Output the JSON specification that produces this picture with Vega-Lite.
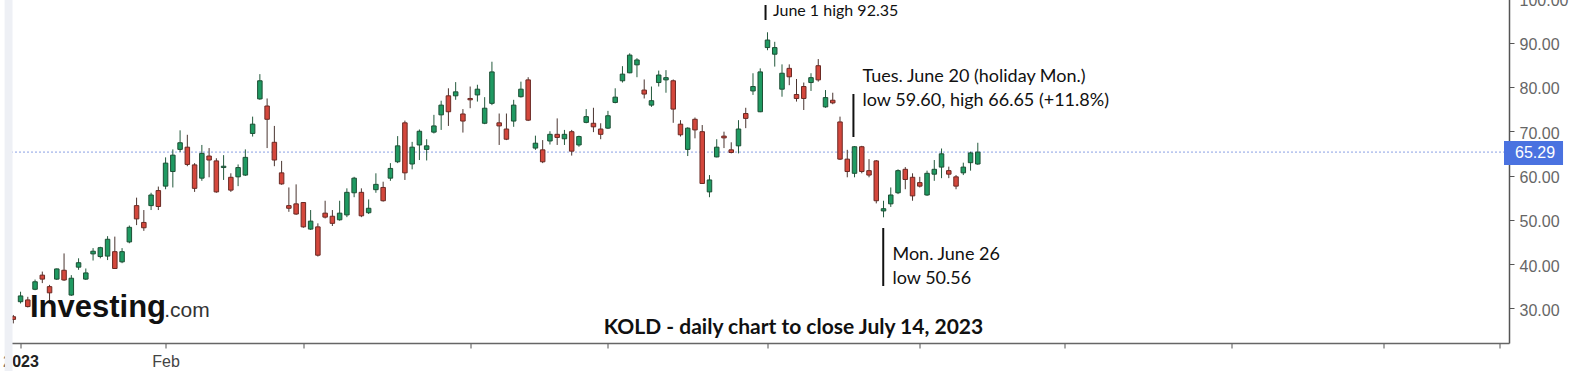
{
  "$schema": "https://vega.github.io/schema/vega-lite/v6.json",
  "width": 1501.5,
  "height": 351,
  "autosize": {"type": "none"},
  "padding": {"left": 7.5, "top": -8, "right": 63, "bottom": 28},
  "background": "white",
  "config": {"view": {"stroke": null}, "font": "Lato"},
  "data": {"values": [
    {"i":0,"o":28.1,"h":28.5,"l":26.6,"c":27.5},
    {"i":1,"o":31.5,"h":33.75,"l":31.1,"c":32.8},
    {"i":2,"o":31.9,"h":32.6,"l":30.2,"c":30.4},
    {"i":3,"o":34.3,"h":36.5,"l":34.1,"c":36.0},
    {"i":4,"o":37.5,"h":38.3,"l":35.7,"c":36.6},
    {"i":5,"o":34.9,"h":35.3,"l":31.1,"c":33.5},
    {"i":6,"o":36.6,"h":39.0,"l":36.4,"c":38.9},
    {"i":7,"o":38.6,"h":42.4,"l":36.2,"c":36.4},
    {"i":8,"o":33.0,"h":37.5,"l":32.8,"c":36.8},
    {"i":9,"o":39.3,"h":41.3,"l":38.7,"c":40.3},
    {"i":10,"o":36.6,"h":39.0,"l":36.4,"c":38.0},
    {"i":11,"o":42.3,"h":43.6,"l":40.8,"c":42.9},
    {"i":12,"o":41.7,"h":43.9,"l":41.3,"c":43.7},
    {"i":13,"o":41.8,"h":46.3,"l":40.9,"c":45.6},
    {"i":14,"o":42.8,"h":46.2,"l":38.9,"c":39.0},
    {"i":15,"o":40.5,"h":43.6,"l":40.2,"c":42.8},
    {"i":16,"o":45.0,"h":48.7,"l":44.7,"c":48.3},
    {"i":17,"o":53.2,"h":55.0,"l":48.8,"c":50.2},
    {"i":18,"o":49.4,"h":52.2,"l":47.5,"c":48.2},
    {"i":19,"o":53.2,"h":56.1,"l":52.2,"c":55.6},
    {"i":20,"o":56.6,"h":57.5,"l":52.2,"c":53.0},
    {"i":21,"o":57.6,"h":64.1,"l":56.9,"c":62.8},
    {"i":22,"o":60.9,"h":65.9,"l":57.3,"c":64.6},
    {"i":23,"o":65.9,"h":70.2,"l":65.3,"c":67.4},
    {"i":24,"o":66.4,"h":69.2,"l":62.1,"c":62.5},
    {"i":25,"o":62.4,"h":62.8,"l":56.3,"c":57.1},
    {"i":26,"o":59.4,"h":66.9,"l":58.8,"c":65.0},
    {"i":27,"o":64.4,"h":66.2,"l":59.6,"c":63.5},
    {"i":28,"o":63.3,"h":63.9,"l":56.1,"c":56.3},
    {"i":29,"o":61.8,"h":64.6,"l":59.0,"c":62.1},
    {"i":30,"o":59.6,"h":60.5,"l":56.3,"c":56.7},
    {"i":31,"o":59.7,"h":62.5,"l":57.6,"c":61.8},
    {"i":32,"o":60.1,"h":65.9,"l":59.9,"c":64.1},
    {"i":33,"o":69.5,"h":73.3,"l":68.8,"c":71.6},
    {"i":34,"o":77.3,"h":82.9,"l":77.1,"c":81.4},
    {"i":35,"o":75.7,"h":77.4,"l":66.2,"c":72.7},
    {"i":36,"o":67.5,"h":71.2,"l":62.1,"c":63.5},
    {"i":37,"o":60.6,"h":63.3,"l":57.9,"c":58.1},
    {"i":38,"o":53.2,"h":57.3,"l":51.8,"c":52.6},
    {"i":39,"o":53.6,"h":58.0,"l":51.1,"c":51.3},
    {"i":40,"o":53.9,"h":54.0,"l":48.2,"c":48.4},
    {"i":41,"o":47.9,"h":52.2,"l":47.7,"c":49.7},
    {"i":42,"o":48.4,"h":49.2,"l":41.7,"c":42.0},
    {"i":43,"o":51.5,"h":54.3,"l":50.3,"c":50.6},
    {"i":44,"o":50.8,"h":52.2,"l":48.6,"c":49.2},
    {"i":45,"o":50.0,"h":54.3,"l":49.8,"c":51.5},
    {"i":46,"o":51.1,"h":57.1,"l":50.6,"c":56.2},
    {"i":47,"o":56.1,"h":59.7,"l":55.1,"c":59.4},
    {"i":48,"o":56.2,"h":57.1,"l":50.6,"c":50.9},
    {"i":49,"o":51.6,"h":54.6,"l":51.3,"c":52.6},
    {"i":50,"o":56.8,"h":60.5,"l":56.1,"c":58.0},
    {"i":51,"o":57.3,"h":58.6,"l":54.1,"c":54.3},
    {"i":52,"o":59.4,"h":62.8,"l":58.8,"c":61.6},
    {"i":53,"o":63.1,"h":68.9,"l":62.8,"c":66.7},
    {"i":54,"o":71.9,"h":72.4,"l":59.0,"c":60.6},
    {"i":55,"o":62.6,"h":67.6,"l":61.4,"c":66.4},
    {"i":56,"o":66.9,"h":70.4,"l":63.5,"c":70.0},
    {"i":57,"o":65.9,"h":68.2,"l":63.4,"c":66.7},
    {"i":58,"o":69.8,"h":73.7,"l":69.5,"c":71.2},
    {"i":59,"o":73.7,"h":76.9,"l":70.3,"c":75.9},
    {"i":60,"o":78.0,"h":79.7,"l":71.2,"c":74.4},
    {"i":61,"o":78.0,"h":81.1,"l":77.1,"c":78.9},
    {"i":62,"o":73.9,"h":75.0,"l":69.7,"c":72.3},
    {"i":63,"o":77.4,"h":80.1,"l":75.2,"c":77.1},
    {"i":64,"o":78.2,"h":80.5,"l":76.7,"c":79.5},
    {"i":65,"o":71.8,"h":77.7,"l":71.6,"c":75.2},
    {"i":66,"o":76.3,"h":85.7,"l":75.9,"c":83.4},
    {"i":67,"o":71.9,"h":74.0,"l":66.9,"c":71.2},
    {"i":68,"o":70.5,"h":74.0,"l":68.0,"c":68.2},
    {"i":69,"o":72.3,"h":77.1,"l":71.0,"c":75.9},
    {"i":70,"o":77.8,"h":81.2,"l":77.6,"c":79.5},
    {"i":71,"o":81.6,"h":82.2,"l":72.3,"c":72.5},
    {"i":72,"o":66.2,"h":69.0,"l":65.8,"c":67.3},
    {"i":73,"o":65.8,"h":68.0,"l":62.8,"c":63.1},
    {"i":74,"o":67.8,"h":70.0,"l":67.0,"c":69.3},
    {"i":75,"o":69.3,"h":72.9,"l":66.9,"c":68.6},
    {"i":76,"o":68.3,"h":70.3,"l":66.9,"c":69.3},
    {"i":77,"o":69.9,"h":70.3,"l":64.5,"c":65.5},
    {"i":78,"o":66.9,"h":69.0,"l":66.5,"c":68.8},
    {"i":79,"o":72.0,"h":75.0,"l":71.8,"c":73.3},
    {"i":80,"o":71.8,"h":75.3,"l":69.8,"c":71.0},
    {"i":81,"o":70.5,"h":71.8,"l":68.2,"c":69.3},
    {"i":82,"o":70.7,"h":74.6,"l":70.5,"c":73.5},
    {"i":83,"o":76.5,"h":79.7,"l":76.3,"c":77.7},
    {"i":84,"o":81.4,"h":84.7,"l":81.0,"c":82.9},
    {"i":85,"o":83.2,"h":87.6,"l":83.1,"c":87.2},
    {"i":86,"o":85.0,"h":86.5,"l":82.2,"c":86.1},
    {"i":87,"o":79.3,"h":81.7,"l":77.4,"c":78.4},
    {"i":88,"o":75.9,"h":80.1,"l":75.5,"c":76.9},
    {"i":89,"o":81.0,"h":83.7,"l":80.1,"c":82.7},
    {"i":90,"o":81.6,"h":83.8,"l":78.7,"c":82.1},
    {"i":91,"o":81.4,"h":81.7,"l":71.9,"c":75.0},
    {"i":92,"o":71.6,"h":72.5,"l":68.8,"c":69.2},
    {"i":93,"o":65.9,"h":70.9,"l":64.4,"c":70.7},
    {"i":94,"o":72.7,"h":73.1,"l":68.4,"c":70.3},
    {"i":95,"o":69.9,"h":71.4,"l":58.1,"c":58.2},
    {"i":96,"o":56.3,"h":60.1,"l":55.1,"c":59.0},
    {"i":97,"o":64.2,"h":68.2,"l":64.1,"c":66.4},
    {"i":98,"o":68.9,"h":69.9,"l":66.2,"c":68.5},
    {"i":99,"o":65.8,"h":67.5,"l":65.0,"c":65.2},
    {"i":100,"o":66.7,"h":72.5,"l":65.0,"c":70.5},
    {"i":101,"o":74.0,"h":75.3,"l":70.7,"c":72.9},
    {"i":102,"o":79.1,"h":83.1,"l":78.2,"c":80.1},
    {"i":103,"o":74.4,"h":84.2,"l":74.3,"c":83.4},
    {"i":104,"o":88.9,"h":92.35,"l":88.3,"c":90.6},
    {"i":105,"o":87.4,"h":90.2,"l":84.6,"c":88.9},
    {"i":106,"o":79.5,"h":85.1,"l":77.8,"c":83.1},
    {"i":107,"o":84.2,"h":85.1,"l":80.4,"c":82.3},
    {"i":108,"o":78.3,"h":81.8,"l":76.7,"c":77.4},
    {"i":109,"o":80.1,"h":81.0,"l":74.8,"c":77.4},
    {"i":110,"o":81.0,"h":83.1,"l":79.1,"c":82.1},
    {"i":111,"o":84.8,"h":86.3,"l":81.2,"c":81.6},
    {"i":112,"o":75.5,"h":79.3,"l":75.3,"c":77.6},
    {"i":113,"o":77.0,"h":78.7,"l":76.1,"c":76.4},
    {"i":114,"o":72.1,"h":73.3,"l":63.5,"c":63.7},
    {"i":115,"o":63.7,"h":65.8,"l":59.6,"c":60.9},
    {"i":116,"o":60.5,"h":66.65,"l":59.6,"c":66.5},
    {"i":117,"o":66.5,"h":66.7,"l":60.5,"c":60.9},
    {"i":118,"o":61.1,"h":63.7,"l":59.6,"c":60.1},
    {"i":119,"o":63.3,"h":63.5,"l":53.7,"c":54.3},
    {"i":120,"o":52.0,"h":54.3,"l":50.56,"c":52.5},
    {"i":121,"o":53.6,"h":57.3,"l":52.9,"c":55.6},
    {"i":122,"o":56.1,"h":61.4,"l":55.8,"c":61.1},
    {"i":123,"o":61.4,"h":61.9,"l":56.9,"c":59.1},
    {"i":124,"o":59.6,"h":60.5,"l":54.3,"c":55.4},
    {"i":125,"o":58.4,"h":59.7,"l":57.3,"c":57.6},
    {"i":126,"o":55.6,"h":61.1,"l":55.4,"c":60.5},
    {"i":127,"o":60.3,"h":63.5,"l":58.8,"c":61.4},
    {"i":128,"o":61.9,"h":66.1,"l":59.4,"c":64.9},
    {"i":129,"o":61.1,"h":62.0,"l":59.4,"c":60.3},
    {"i":130,"o":59.7,"h":60.1,"l":56.9,"c":57.6},
    {"i":131,"o":60.6,"h":62.9,"l":60.1,"c":61.9},
    {"i":132,"o":62.9,"h":65.4,"l":61.1,"c":65.1},
    {"i":133,"o":62.6,"h":67.4,"l":62.4,"c":65.29}
  ]},
  "layer": [
    {
      "mark": {"type": "rule", "stroke": "#ffffff", "strokeWidth": 0},
      "encoding": {
        "x": {"field": "i", "type": "quantitative",
          "scale": {"domain": [-0.11, 205.56], "nice": false, "zero": false},
          "axis": {"orient": "bottom", "values": [1, 21, 40, 63, 82, 104, 125, 145, 168, 188.9, 204.9],
            "labelExpr": "datum.value == 1 ? '2023' : datum.value == 21 ? 'Feb' : ''",
            "labelFontWeight": {"expr": "datum.value == 1 ? 'bold' : 'normal'"},
            "labelColor": {"expr": "datum.value == 1 ? '#222222' : '#444444'"},
            "labelFont": "Liberation Sans", "labelFontSize": 16, "labelFlush": false, "labelOverlap": false, "labelBound": false,
            "tickSize": 5, "tickColor": "#555555", "domainColor": "#666666", "domainWidth": 1.5,
            "labelPadding": 5, "grid": false, "title": null}},
        "y": {"field": "l", "type": "quantitative",
          "scale": {"domain": [22.17, 101.45], "nice": false, "zero": false},
          "axis": {"orient": "right", "values": [30, 40, 50, 60, 70, 80, 90, 100], "format": ".2f",
            "labelFont": "Liberation Sans", "labelFontSize": 16, "labelColor": "#666666", "labelOffset": 2,
            "tickSize": 5, "tickColor": "#555555", "domainColor": "#555555", "domainWidth": 1.5,
            "labelPadding": 5, "labelFlush": false, "labelOverlap": false, "grid": false, "title": null}}
      }
    },
    {
      "data": {"values": [{}]},
      "mark": {"type": "rule", "stroke": "#8aa0e4", "strokeWidth": 1, "strokeDash": [2, 2]},
      "encoding": {"y": {"datum": 65.29, "type": "quantitative"}}
    },
    {
      "mark": {"type": "rule", "strokeWidth": 1},
      "encoding": {
        "x": {"field": "i", "type": "quantitative"},
        "y": {"field": "l", "type": "quantitative"},
        "y2": {"field": "h"},
        "color": {"condition": {"test": "datum.c >= datum.o", "value": "#245a3d"}, "value": "#4a3530"}
      }
    },
    {
      "mark": {"type": "bar", "size": 4.5, "strokeWidth": 1},
      "encoding": {
        "x": {"field": "i", "type": "quantitative"},
        "y": {"field": "o", "type": "quantitative"},
        "y2": {"field": "c"},
        "fill": {"condition": {"test": "datum.c >= datum.o", "value": "#1f9a62"}, "value": "#d4473c"},
        "stroke": {"condition": {"test": "datum.c >= datum.o", "value": "#1d4f35"}, "value": "#6b2a24"}
      }
    },
    {
      "data": {"values": [{}]},
      "mark": {"type": "rule", "stroke": "#111111", "strokeWidth": 2},
      "encoding": {"x": {"datum": 103.73, "type": "quantitative"}, "y": {"datum": 98.52, "type": "quantitative"}, "y2": {"datum": 95.13}}
    },
    {
      "data": {"values": [{}]},
      "mark": {"type": "rule", "stroke": "#111111", "strokeWidth": 2},
      "encoding": {"x": {"datum": 115.85, "type": "quantitative"}, "y": {"datum": 78.41, "type": "quantitative"}, "y2": {"datum": 68.7}}
    },
    {
      "data": {"values": [{}]},
      "mark": {"type": "rule", "stroke": "#111111", "strokeWidth": 2},
      "encoding": {"x": {"datum": 119.96, "type": "quantitative"}, "y": {"datum": 48.14, "type": "quantitative"}, "y2": {"datum": 35.04}}
    },
    {
      "data": {"values": [{}]},
      "mark": {"type": "text", "text": "June 1 high 92.35", "font": "Lato", "fontSize": 16, "fill": "#111111", "align": "left", "baseline": "alphabetic"},
      "encoding": {"x": {"datum": 104.75, "type": "quantitative"}, "y": {"datum": 96.1, "type": "quantitative"}}
    },
    {
      "data": {"values": [{}]},
      "mark": {"type": "text", "text": "Tues. June 20 (holiday Mon.)", "font": "Lato", "fontSize": 18, "fill": "#111111", "align": "left", "baseline": "alphabetic"},
      "encoding": {"x": {"datum": 117.1, "type": "quantitative"}, "y": {"datum": 81.19, "type": "quantitative"}}
    },
    {
      "data": {"values": [{}]},
      "mark": {"type": "text", "text": "low 59.60, high 66.65 (+11.8%)", "font": "Lato", "fontSize": 18, "fill": "#111111", "align": "left", "baseline": "alphabetic"},
      "encoding": {"x": {"datum": 117.1, "type": "quantitative"}, "y": {"datum": 75.7, "type": "quantitative"}}
    },
    {
      "data": {"values": [{}]},
      "mark": {"type": "text", "text": "Mon. June 26", "font": "Lato", "fontSize": 18, "fill": "#111111", "align": "left", "baseline": "alphabetic"},
      "encoding": {"x": {"datum": 121.23, "type": "quantitative"}, "y": {"datum": 40.91, "type": "quantitative"}}
    },
    {
      "data": {"values": [{}]},
      "mark": {"type": "text", "text": "low 50.56", "font": "Lato", "fontSize": 18, "fill": "#111111", "align": "left", "baseline": "alphabetic"},
      "encoding": {"x": {"datum": 121.23, "type": "quantitative"}, "y": {"datum": 35.49, "type": "quantitative"}}
    },
    {
      "data": {"values": [{}]},
      "mark": {"type": "text", "text": "KOLD - daily chart to close July 14, 2023", "font": "Lato", "fontWeight": "bold", "fontSize": 21, "fill": "#111111", "align": "left", "baseline": "alphabetic"},
      "encoding": {"x": {"datum": 81.42, "type": "quantitative"}, "y": {"datum": 24.13, "type": "quantitative"}}
    },
    {
      "data": {"values": [{}]},
      "mark": {"type": "text", "text": "Investing", "font": "Liberation Sans", "fontWeight": "bold", "fontSize": 31, "fill": "#111111", "align": "left", "baseline": "alphabetic"},
      "encoding": {"x": {"datum": 2.3, "type": "quantitative"}, "y": {"datum": 28.11, "type": "quantitative"}}
    },
    {
      "data": {"values": [{}]},
      "mark": {"type": "text", "text": ".com", "font": "Liberation Sans", "fontSize": 21, "fill": "#333333", "align": "left", "baseline": "alphabetic"},
      "encoding": {"x": {"datum": 20.8, "type": "quantitative"}, "y": {"datum": 28.11, "type": "quantitative"}}
    },
    {
      "data": {"values": [{}]},
      "mark": {"type": "rect", "fill": "#4a72e0"},
      "encoding": {"x": {"datum": 205.56, "type": "quantitative"}, "x2": {"datum": 213.7}, "y": {"datum": 67.8, "type": "quantitative"}, "y2": {"datum": 62.37}}
    },
    {
      "data": {"values": [{}]},
      "mark": {"type": "text", "text": "65.29", "font": "Liberation Sans", "fontSize": 16, "fill": "#ffffff", "align": "left", "baseline": "middle", "dy": 1},
      "encoding": {"x": {"datum": 207.08, "type": "quantitative"}, "y": {"datum": 65.29, "type": "quantitative"}}
    },
    {
      "data": {"values": [{}]},
      "mark": {"type": "rect", "fill": "#eef0f5"},
      "encoding": {"x": {"datum": -1.2, "type": "quantitative"}, "x2": {"datum": -0.11}, "y": {"datum": 101.5, "type": "quantitative"}, "y2": {"datum": 15.8}}
    }
  ]
}
